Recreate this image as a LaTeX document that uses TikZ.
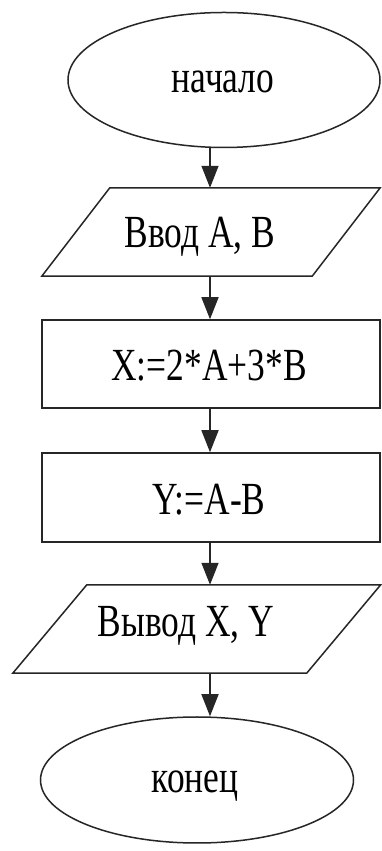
\documentclass[tikz,border=0pt]{standalone}
\usepackage{fontspec}
\setmainfont{Liberation Serif}[FakeStretch=0.77]
\usetikzlibrary{shapes.geometric,arrows.meta}
\begin{document}
\begin{tikzpicture}[x=1pt,y=1pt,
  outline/.style={draw=black!85,line width=1.5pt},
  term/.style={outline,ellipse,inner sep=0pt},
  procbox/.style={outline,rectangle,inner sep=0pt},
  ghost/.style={inner sep=0pt},
  lbl/.style={inner sep=0pt,font=\fontsize{46}{52}\selectfont},
  flow/.style={draw=black!85,line width=1.5pt,-{Triangle[length=22pt,width=17pt]}}]
\useasboundingbox (0,0) rectangle (381,851);
\fill[white] (0,0) rectangle (381,851);
\coordinate (ax) at (210,0);
% terminators
\node[term,minimum width=312pt,minimum height=135pt] (e1) at (224,771) {};
\node[lbl] (t1) at (223,769) {начало};
\node[term,minimum width=313pt,minimum height=126pt] (e2) at (197,71) {};
\node[lbl] (t6) at (195,65) {конец};
% input parallelogram
\node[ghost,minimum width=270pt,minimum height=88pt] (p1) at (211,619) {};
\draw[outline] ([xshift=34pt]p1.north west) -- ([xshift=34pt]p1.north east)
  -- ([xshift=-34pt]p1.south east) -- ([xshift=-34pt]p1.south west) -- cycle;
\node[lbl] (t2) at (200,614) {Ввод A, B};
% process boxes
\node[procbox,minimum width=338pt,minimum height=88pt] (r1) at (211,487) {};
\node[lbl] (t3) at (209,485) {X:=2*A+3*B};
\node[procbox,minimum width=338pt,minimum height=89pt] (r2) at (211,353.5) {};
\node[lbl] (t4) at (209,351) {Y:=A-B};
% output parallelogram
\node[ghost,minimum width=293.5pt,minimum height=88pt] (p2) at (196.75,222) {};
\draw[outline] ([xshift=37pt]p2.north west) -- ([xshift=37pt]p2.north east)
  -- ([xshift=-37pt]p2.south east) -- ([xshift=-37pt]p2.south west) -- cycle;
\node[lbl] (t5) at (186,225) {Вывод X, Y};
% connectors
\draw[flow] (ax |- e1.south) -- (ax |- p1.north);
\draw[flow] (ax |- p1.south) -- (ax |- r1.north);
\draw[flow] (ax |- r1.south) -- (ax |- r2.north);
\draw[flow] (ax |- r2.south) -- (ax |- p2.north);
\draw[flow] (ax |- p2.south) -- (ax |- e2.north);
\end{tikzpicture}
\end{document}
